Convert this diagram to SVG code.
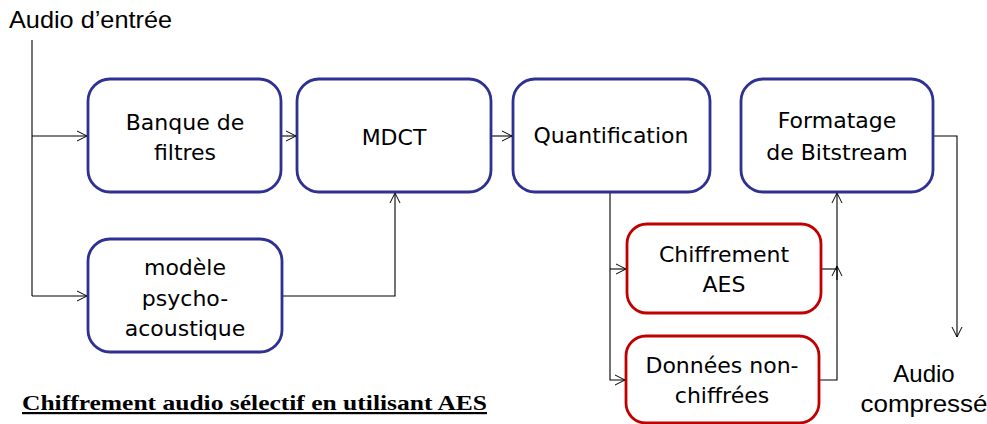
<svg xmlns="http://www.w3.org/2000/svg" width="987" height="424" viewBox="0 0 987 424">
<defs>
<marker id="ah" markerWidth="12" markerHeight="12" refX="11" refY="6" orient="auto" markerUnits="userSpaceOnUse">
<path d="M1,1 L11,6 L1,11" fill="none" stroke="#000" stroke-width="1"/>
</marker>
<style>
.blue{fill:#fff;stroke:#2E3192;stroke-width:2.8}
.red{fill:#fff;stroke:#C00000;stroke-width:2.8}
.t{font-family:"DejaVu Sans","Noto Sans",sans-serif;font-size:22px;fill:#000;text-anchor:middle}
.a{font-family:"Liberation Sans",Arial,sans-serif;font-size:24px;fill:#000}
.c{fill:none;stroke:#000;stroke-width:1.1}
</style>
</defs>
<rect width="987" height="424" fill="#fff"/>
<text class="a" x="9" y="28" textLength="163" lengthAdjust="spacingAndGlyphs">Audio d’entrée</text>
<g id="connectors">
<path class="c" d="M32,40 V296"/>
<path class="c" d="M32,136 H87" marker-end="url(#ah)"/>
<path class="c" d="M32,296 H87" marker-end="url(#ah)"/>
<path class="c" d="M282,136 H296" marker-end="url(#ah)"/>
<path class="c" d="M491,136 H512" marker-end="url(#ah)"/>
<path class="c" d="M282,296 H395 V193" marker-end="url(#ah)"/>
<path class="c" d="M610,192 V380 H625" marker-end="url(#ah)"/>
<path class="c" d="M610,269 H626" marker-end="url(#ah)"/>
<path class="c" d="M821,269 H837"/>
<path class="c" d="M837,280 V266" marker-end="url(#ah)"/>
<path class="c" d="M819,380 H837 V193" marker-end="url(#ah)"/>
<path class="c" d="M933,136 H957 V337" marker-end="url(#ah)"/>
</g>
<g id="banque">
<rect class="blue" x="88" y="79" width="193" height="113" rx="22"/>
<text class="t" x="185" y="130">Banque de</text>
<text class="t" x="185" y="160">filtres</text>
</g>
<g id="mdct">
<rect class="blue" x="297" y="79" width="194" height="113" rx="22"/>
<text class="t" x="394" y="145" font-size="24">MDCT</text>
</g>
<g id="quantification">
<rect class="blue" x="513" y="79" width="197" height="113" rx="22"/>
<text class="t" x="611" y="143" font-size="20" textLength="155" lengthAdjust="spacingAndGlyphs">Quantification</text>
</g>
<g id="formatage">
<rect class="blue" x="741" y="79" width="192" height="113" rx="22"/>
<text class="t" x="837" y="128">Formatage</text>
<text class="t" x="837" y="160">de Bitstream</text>
</g>
<g id="modele">
<rect class="blue" x="88" y="239" width="194" height="113" rx="22"/>
<text class="t" x="185" y="275">modèle</text>
<text class="t" x="185" y="306">psycho-</text>
<text class="t" x="185" y="336">acoustique</text>
</g>
<g id="chiffrement">
<rect class="red" x="627" y="224" width="194" height="89" rx="20"/>
<text class="t" x="724" y="262">Chiffrement</text>
<text class="t" x="724" y="292">AES</text>
</g>
<g id="donnees">
<rect class="red" x="626" y="336" width="193" height="87" rx="20"/>
<text class="t" x="722" y="373">Données non-</text>
<text class="t" x="722" y="403">chiffrées</text>
</g>
<text class="a" x="924" y="382" text-anchor="middle">Audio</text>
<text class="a" x="924" y="412" text-anchor="middle" textLength="127" lengthAdjust="spacingAndGlyphs">compressé</text>
<text x="22" y="410" font-family="'Liberation Serif','Times New Roman',serif" font-size="22" font-weight="bold" text-decoration="underline" textLength="465" lengthAdjust="spacingAndGlyphs">Chiffrement audio sélectif en utilisant AES</text>
</svg>
